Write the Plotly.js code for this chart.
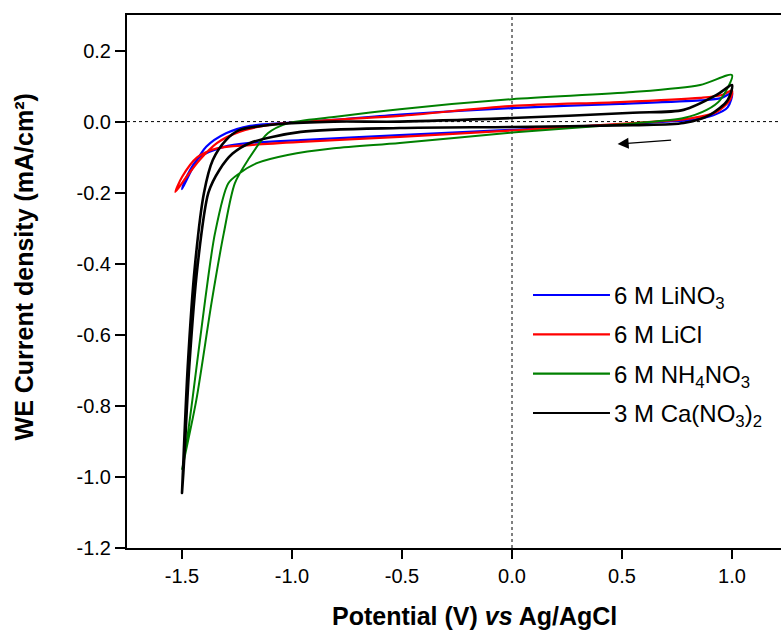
<!DOCTYPE html>
<html>
<head>
<meta charset="utf-8">
<script src="https://cdn.plot.ly/plotly-3.0.1.min.js"></script>
<style>html,body{margin:0;padding:0;background:#fff;}#chart{width:781px;height:637px;}</style>
</head>
<body>
<div id="chart"></div>
<script>
// LiNO3: cathodic (lower) branch from +1.0 V to -1.5 V, then anodic (upper) branch back
var lino3_x = [1.0, 0.98, 0.915, 0.82, 0.7, 0.55, 0.0, -0.51, -0.96, -1.19, -1.31, -1.42, -1.48, -1.5,
               -1.45, -1.39, -1.3, -1.19, -1.04, -0.81, -0.51, 0.0, 0.49, 0.855, 0.95, 1.0];
var lino3_y = [0.08, 0.04, 0.018, 0.005, 0.0, -0.006, -0.023, -0.038, -0.052, -0.06, -0.071, -0.1, -0.156, -0.19,
               -0.128, -0.071, -0.033, -0.012, -0.004, 0.005, 0.02, 0.038, 0.05, 0.06, 0.066, 0.08];

var licl_x = [1.0, 0.99, 0.93, 0.82, 0.7, 0.55, 0.0, -0.51, -0.96, -1.19, -1.34, -1.43, -1.5, -1.53,
              -1.48, -1.42, -1.34, -1.24, -1.11, -0.81, -0.51, 0.0, 0.49, 0.855, 0.95, 1.0];
var licl_y = [0.087, 0.06, 0.027, 0.01, 0.002, -0.004, -0.025, -0.043, -0.057, -0.066, -0.075, -0.1, -0.156, -0.198,
              -0.156, -0.108, -0.06, -0.029, -0.01, 0.005, 0.016, 0.044, 0.055, 0.067, 0.074, 0.087];

var nh4no3_x = [1.0, 0.945, 0.885, 0.78, 0.55, 0.0, -0.51, -0.81, -1.02, -1.16, -1.24, -1.29, -1.35, -1.395, -1.453, -1.49, -1.5,
                -1.49, -1.435, -1.364, -1.31, -1.26, -1.2, -1.11, -1.02, -0.81, -0.51, 0.0, 0.55, 0.855, 1.0];
var nh4no3_y = [0.131, 0.06, 0.033, 0.01, -0.005, -0.031, -0.06, -0.075, -0.094, -0.117, -0.146, -0.174, -0.314, -0.503, -0.784, -0.95, -0.98,
                -0.95, -0.784, -0.503, -0.314, -0.174, -0.108, -0.033, -0.005, 0.013, 0.035, 0.063, 0.083, 0.103, 0.131];

var cano3_x = [1.0, 0.98, 0.9, 0.78, 0.55, 0.0, -0.51, -0.96, -1.19, -1.27, -1.33, -1.38, -1.43, -1.467, -1.49, -1.5,
               -1.495, -1.474, -1.442, -1.4, -1.36, -1.3, -1.24, -1.04, -0.81, -0.51, 0.0, 0.55, 0.78, 0.93, 1.0];
var cano3_y = [0.103, 0.06, 0.019, -0.004, -0.01, -0.015, -0.018, -0.029, -0.06, -0.09, -0.136, -0.2, -0.41, -0.69, -0.95, -1.045,
               -0.973, -0.69, -0.41, -0.2, -0.108, -0.052, -0.024, -0.006, 0.0, 0.0, 0.01, 0.025, 0.033, 0.075, 0.103];

var seriesNames = ['6 M LiNO<sub>3</sub>', '6 M LiCl', '6 M NH<sub>4</sub>NO<sub>3</sub>', '3 M Ca(NO<sub>3</sub>)<sub>2</sub>'];
var seriesColors = ['#0000ff', '#ff0000', '#008000', '#000000'];

var xTickVals = [-1.5, -1.0, -0.5, 0.0, 0.5, 1.0];
var xTickText = ['-1.5', '-1.0', '-0.5', '0.0', '0.5', '1.0'];
var yTickVals = [0.2, 0.0, -0.2, -0.4, -0.6, -0.8, -1.0, -1.2];
var yTickText = ['0.2', '0.0', '-0.2', '-0.4', '-0.6', '-0.8', '-1.0', '-1.2'];

var xs = [lino3_x, licl_x, nh4no3_x, cano3_x];
var ys = [lino3_y, licl_y, nh4no3_y, cano3_y];
var widths = [2.2, 2.2, 2, 2.6];

var traces = xs.map(function (x, i) {
  return {
    x: x, y: ys[i], type: 'scatter', mode: 'lines', name: seriesNames[i], showlegend: false,
    line: {color: seriesColors[i], width: widths[i], shape: 'spline', smoothing: 0.8}
  };
});

// legend drawn as paper-positioned keys (long sample lines as in the reference)
var legendTop = 0.4747, legendStep = 0.0738;
var legendShapes = seriesColors.map(function (c, i) {
  var yy = legendTop - i * legendStep;
  return {type: 'line', xref: 'paper', yref: 'paper', x0: 0.6208, x1: 0.7385, y0: yy, y1: yy,
          line: {color: c, width: 2.2}};
});
var legendTexts = seriesNames.map(function (n, i) {
  var yy = legendTop - i * legendStep;
  var hasSub = n.indexOf('<sub>') >= 0;
  return {xref: 'paper', yref: 'paper', x: 0.7416, y: yy, xanchor: 'left', yanchor: 'middle',
          yshift: hasSub ? -3 : 0,
          text: n, showarrow: false, font: {size: 24, color: '#000'}};
});

var font = 'Arial, Liberation Sans, sans-serif';
var layout = {
  width: 781, height: 637,
  margin: {l: 127, r: 0, t: 15, b: 89},
  paper_bgcolor: '#fff', plot_bgcolor: '#fff',
  font: {family: font, color: '#000', size: 20},
  showlegend: false,
  xaxis: {
    range: [-1.75, 1.2227], showgrid: false, zeroline: false,
    showline: true, linecolor: '#000', linewidth: 2, mirror: true,
    ticks: 'outside', ticklen: 9, tickwidth: 2, tickcolor: '#000',
    tickvals: xTickVals, ticktext: xTickText, tickfont: {size: 20}
  },
  yaxis: {
    range: [-1.2, 0.3], showgrid: false, zeroline: false,
    showline: true, linecolor: '#000', linewidth: 2,
    ticks: 'outside', ticklen: 10, tickwidth: 2, tickcolor: '#000',
    tickvals: yTickVals, ticktext: yTickText, tickfont: {size: 20}
  },
  shapes: [
    {type: 'line', xref: 'x', yref: 'paper', x0: 0, x1: 0, y0: 0, y1: 1, line: {color: '#000', width: 1, dash: 'dot'}, layer: 'below'},
    {type: 'line', xref: 'paper', yref: 'y', x0: 0, x1: 1, y0: 0, y1: 0, line: {color: '#000', width: 1, dash: 'dot'}, layer: 'below'}
  ].concat(legendShapes),
  annotations: [
    {x: 0.48, y: -0.063, ax: 0.73, ay: -0.052, xref: 'x', yref: 'y', axref: 'x', ayref: 'y',
     showarrow: true, arrowhead: 2, arrowsize: 1.7, arrowwidth: 1.3, arrowcolor: '#000', text: ''},
    {xref: 'paper', yref: 'paper', x: 0.5306, y: -0.098, xanchor: 'center', yanchor: 'top',
     text: '<b>Potential (V) <i>vs</i> Ag/AgCl</b>', showarrow: false, font: {size: 25, color: '#000'}},
    {xref: 'paper', yref: 'paper', x: -0.157, y: 0.527, xanchor: 'center', yanchor: 'middle', textangle: -90,
     text: '<b>WE Current density (mA/cm²)</b>', showarrow: false, font: {size: 25, color: '#000'}}
  ].concat(legendTexts)
};

Plotly.newPlot('chart', traces, layout, {displayModeBar: false, staticPlot: true});
</script>
</body>
</html>
